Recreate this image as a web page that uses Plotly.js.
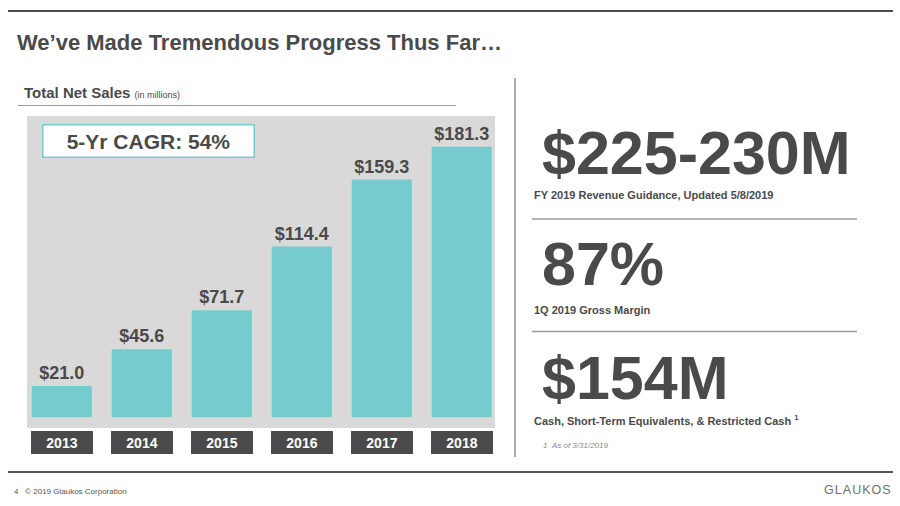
<!DOCTYPE html>
<html>
<head>
<meta charset="utf-8">
<script src="https://cdn.plot.ly/plotly-3.0.1.min.js"></script>
<style>
  html, body { margin: 0; padding: 0; background: #ffffff; }
  #chart { width: 900px; height: 506px; }
</style>
</head>
<body>
<div id="chart"></div>
<script>
// ---- data ----
const years = ['2013', '2014', '2015', '2016', '2017', '2018'];
const netSales = [21.0, 45.6, 71.7, 114.4, 159.3, 181.3];
const cagrText = '5-Yr CAGR: 54%';
const kpiValues = ['$225-230M', '87%', '$154M'];
const kpiLabels = [
  'FY 2019 Revenue Guidance, Updated 5/8/2019',
  '1Q 2019 Gross Margin',
  'Cash, Short-Term Equivalents, & Restricted Cash <sup>1</sup>'
];
const footnote = '1\u00a0\u00a0As of 3/31/2019';
const pageTitle = 'We\u2019ve Made Tremendous Progress Thus Far\u2026';
const chartTitle = 'Total Net Sales';
const chartUnit = '(in millions)';
const footerText = '4\u00a0\u00a0\u00a0\u00a9 2019 Glaukos Corporation';
const logoText = 'GLAUKOS';

// ---- layout helpers ----
const FONT = 'Liberation Sans, Arial, Helvetica, sans-serif';
const DARK = '#4a4a4a';
const TEAL = '#76cbce';
const W = 900, H = 506;
const M = { l: 27, r: 405, t: 116, b: 78 };
const PW = W - M.l - M.r, PH = H - M.t - M.b;
const px = x => (x - M.l) / PW;
const py = y => (H - M.b - y) / PH;

const trace = {
  type: 'bar',
  x: years,
  y: netSales,
  width: 0.75,
  marker: { color: TEAL, line: { width: 0 } },
  text: netSales.map(v => '$' + v.toFixed(1)),
  textposition: 'outside',
  constraintext: 'none',
  cliponaxis: false,
  textfont: { family: FONT, size: 18, color: DARK, weight: 'bold' },
  hoverinfo: 'none'
};

const annotations = [];
function txt(x, y, text, size, opts) {
  annotations.push(Object.assign({
    xref: 'paper', yref: 'paper', x: px(x), y: py(y),
    xanchor: 'left', yanchor: 'middle', showarrow: false,
    text: text,
    font: { family: FONT, size: size, color: DARK }
  }, opts || {}));
}

// page title
txt(15, 42.5, '<b>' + pageTitle + '</b>', 22);
// chart title
txt(21.5, 92, '<b>' + chartTitle + '</b> <span style="font-size:9px">' + chartUnit + '</span>', 15);

// CAGR box
annotations.push({
  xref: 'paper', yref: 'paper', x: px(148.3), y: py(141),
  xanchor: 'center', yanchor: 'middle', showarrow: false,
  text: '<b>' + cagrText + '</b>',
  width: 210, height: 31, align: 'center', valign: 'middle',
  bgcolor: '#ffffff', bordercolor: TEAL, borderwidth: 1.5, borderpad: 0,
  font: { family: FONT, size: 21, color: DARK }
});

// year boxes (category index positions on the x axis)
years.forEach((yr, i) => {
  annotations.push({
    xref: 'x', yref: 'paper', x: i, y: py(442.5),
    xanchor: 'center', yanchor: 'middle', showarrow: false,
    text: '<b>' + yr + '</b>',
    width: 62, height: 23, align: 'center', valign: 'middle',
    bgcolor: '#4a4a4a', bordercolor: '#4a4a4a', borderpad: 0, borderwidth: 0,
    font: { family: FONT, size: 14, color: '#ffffff' }
  });
});

// right-hand KPIs
const kpiValueY = [152.5, 264, 377.5];
const kpiLabelY = [194.5, 309.5, 420];
kpiValues.forEach((v, i) => {
  txt(539.5, kpiValueY[i], '<b>' + v + '</b>', 61);
  txt(531.5, kpiLabelY[i], '<b>' + kpiLabels[i] + '</b>', 11);
});
txt(540.5, 445.5, '<i>' + footnote + '</i>', 8, { font: { family: FONT, size: 8, color: '#8a8a8a' } });

// footer
txt(12, 491, footerText, 8, { font: { family: FONT, size: 8, color: '#555555' } });
txt(822, 490, logoText.split('').join('\u200a'), 12.5, { font: { family: FONT, size: 12.5, color: '#6f716a' } });

// lines
function line(x0, y0, x1, y1, color, width) {
  return {
    type: 'line', xref: 'paper', yref: 'paper',
    x0: px(x0), y0: py(y0), x1: px(x1), y1: py(y1),
    line: { color: color, width: width }, layer: 'above'
  };
}
const shapes = [
  line(8, 11, 893, 11, '#4d4d4d', 2),
  line(18, 105.5, 456, 105.5, '#9a9a9a', 1),
  line(515, 78, 515, 457, '#555555', 1),
  line(532, 219, 857, 219, '#9a9a9a', 1.5),
  line(532, 331.5, 857, 331.5, '#9a9a9a', 1.5),
  line(8, 472, 893, 472, '#555555', 2)
];

const layout = {
  width: W, height: H,
  margin: M,
  paper_bgcolor: '#ffffff',
  plot_bgcolor: '#d9d9d9',
  showlegend: false,
  font: { family: FONT, color: DARK },
  xaxis: {
    type: 'category', range: [-0.434, 5.416],
    showticklabels: false, showgrid: false, zeroline: false, showline: false, ticks: '', fixedrange: true
  },
  yaxis: {
    range: [-7.17, 201.86],
    showticklabels: false, showgrid: false, zeroline: false, showline: false, ticks: '', fixedrange: true
  },
  annotations: annotations,
  shapes: shapes
};

Plotly.newPlot('chart', [trace], layout, { displayModeBar: false, staticPlot: true });
</script>
</body>
</html>
